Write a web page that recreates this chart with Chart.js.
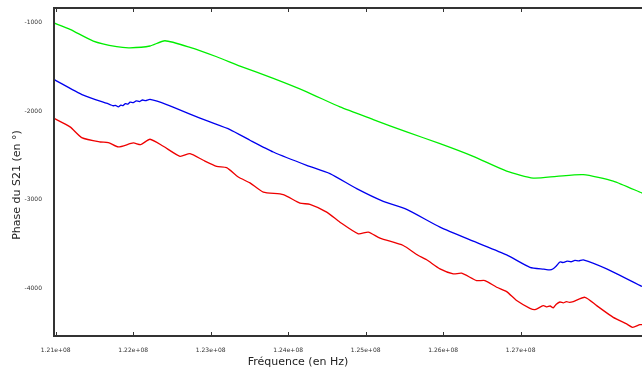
<!DOCTYPE html>
<html>
<head>
<meta charset="utf-8">
<script src="https://cdn.jsdelivr.net/npm/chart.js@4/dist/chart.umd.min.js"></script>
<style>
  html, body { margin: 0; padding: 0; background: #fff; }
  canvas { display: block; }
</style>
</head>
<body>
<canvas id="c" width="642" height="371"></canvas>
<script>
// Phase du S21 vs fréquence, 3 courbes relevées à la main sur l'image
var xTicks = [1.21e8, 1.22e8, 1.23e8, 1.24e8, 1.25e8, 1.26e8, 1.27e8];
var yTicks = [-4000, -3000, -2000, -1000];

var greenFreq = [120.969, 121.185, 121.485, 121.787, 121.959, 122.217, 122.410, 122.733, 123.077, 123.378, 123.808, 124.239, 124.668, 125.098, 125.529, 125.959, 126.388, 126.819, 127.163, 127.465, 127.808, 128.195, 128.566];
var greenPhase = [-1005, -1079, -1211, -1275, -1287, -1267, -1208, -1282, -1388, -1493, -1632, -1783, -1953, -2095, -2235, -2366, -2509, -2675, -2754, -2735, -2716, -2788, -2923];

var blueFreq = [120.969, 121.356, 121.701, 121.740, 121.770, 121.808, 121.840, 121.870, 121.900, 121.930, 121.960, 122.001, 122.040, 122.080, 122.120, 122.160, 122.217, 122.432, 122.733, 122.991, 123.249, 123.507, 123.808, 124.239, 124.539, 124.884, 125.227, 125.529, 125.959, 126.388, 126.819, 127.120, 127.300, 127.378, 127.420, 127.460, 127.507, 127.550, 127.600, 127.650, 127.700, 127.750, 127.808, 128.110, 128.566];
var bluePhase = [-1640, -1821, -1926, -1940, -1935, -1953, -1932, -1938, -1915, -1922, -1900, -1905, -1885, -1893, -1875, -1882, -1869, -1926, -2035, -2122, -2208, -2328, -2461, -2611, -2704, -2874, -3017, -3107, -3307, -3465, -3619, -3759, -3780, -3788, -3775, -3745, -3700, -3705, -3690, -3697, -3682, -3688, -3675, -3777, -3976];

var redFreq = [120.969, 121.185, 121.335, 121.572, 121.679, 121.808, 122.001, 122.097, 122.217, 122.388, 122.604, 122.733, 122.905, 123.077, 123.206, 123.356, 123.507, 123.679, 123.937, 124.152, 124.281, 124.497, 124.668, 124.905, 125.034, 125.185, 125.485, 125.658, 125.787, 125.959, 126.130, 126.239, 126.432, 126.539, 126.690, 126.819, 126.948, 127.120, 127.185, 127.292, 127.340, 127.380, 127.421, 127.460, 127.507, 127.550, 127.590, 127.630, 127.679, 127.830, 127.981, 128.195, 128.368, 128.445, 128.539, 128.566];
var redPhase = [-2077, -2178, -2298, -2348, -2354, -2404, -2359, -2377, -2317, -2396, -2509, -2479, -2554, -2622, -2637, -2743, -2808, -2912, -2941, -3036, -3051, -3138, -3251, -3382, -3363, -3431, -3514, -3615, -3675, -3777, -3833, -3826, -3909, -3909, -3984, -4033, -4134, -4221, -4236, -4191, -4205, -4195, -4215, -4175, -4150, -4160, -4145, -4155, -4146, -4097, -4191, -4323, -4397, -4436, -4405, -4405];

function pts(f, p) {
  return f.map(function (v, i) { return { x: v * 1e6, y: p[i] }; });
}

// cadre + petites graduations vers l'intérieur
var frame = {
  id: "frame",
  afterDraw: function (chart) {
    var ctx = chart.ctx, a = chart.chartArea, xs = chart.scales.x;
    ctx.save();
    ctx.strokeStyle = "#333";
    ctx.lineWidth = 2;
    ctx.beginPath();
    ctx.moveTo(a.right, a.top); ctx.lineTo(a.left, a.top);
    ctx.lineTo(a.left, a.bottom); ctx.lineTo(a.right, a.bottom);
    ctx.stroke();
    ctx.lineWidth = 1;
    ctx.beginPath();
    xTicks.forEach(function (t) {
      var px = Math.round(xs.getPixelForValue(t)) + 0.5;
      ctx.moveTo(px, a.top); ctx.lineTo(px, a.top + 4);
      ctx.moveTo(px, a.bottom); ctx.lineTo(px, a.bottom - 4);
    });
    ctx.stroke();
    ctx.fillStyle = "#222";
    ctx.font = "11px 'DejaVu Sans'";
    ctx.textAlign = "center";
    ctx.textBaseline = "middle";
    ctx.fillText("Fréquence (en Hz)", 298, 362);
    ctx.translate(17, 185);
    ctx.rotate(-Math.PI / 2);
    ctx.fillText("Phase du S21 (en °)", 0, 0);
    ctx.restore();
  }
};

new Chart(document.getElementById("c").getContext("2d"), {
  type: "scatter",
  data: {
    datasets: [
      { data: pts(greenFreq, greenPhase), borderColor: "#00ee00" },
      { data: pts(blueFreq, bluePhase), borderColor: "#0000ee" },
      { data: pts(redFreq, redPhase), borderColor: "#ee0000" }
    ]
  },
  options: {
    responsive: false,
    animation: false,
    layout: { padding: { top: 8, left: 0, right: 0, bottom: 0 } },
    datasets: { scatter: { showLine: true, pointRadius: 0, borderWidth: 1.3, tension: 0.2, fill: false } },
    plugins: { legend: { display: false }, tooltip: { enabled: false } },
    scales: {
      x: {
        type: "linear",
        min: 1.20978e8,
        max: 1.28566e8,
        grid: { display: false },
        border: { display: false },
        afterBuildTicks: function (s) { s.ticks = xTicks.map(function (v) { return { value: v }; }); },
        afterFit: function (s) { s.height = 35; },
        ticks: {
          maxRotation: 0,
          padding: 3,
          color: "#333",
          font: { family: "'DejaVu Sans'", size: 6 },
          callback: function (v) { return v.toExponential(2).replace("e+", "e+0"); }
        }
      },
      y: {
        min: -4533,
        max: -839,
        grid: { display: false },
        border: { display: false },
        afterBuildTicks: function (s) { s.ticks = yTicks.map(function (v) { return { value: v }; }); },
        afterFit: function (s) { s.width = 54; },
        ticks: {
          padding: 4,
          color: "#333",
          font: { family: "'DejaVu Sans'", size: 6 },
          callback: function (v) { return String(v); }
        }
      }
    }
  },
  plugins: [frame]
});
</script>
</body>
</html>
